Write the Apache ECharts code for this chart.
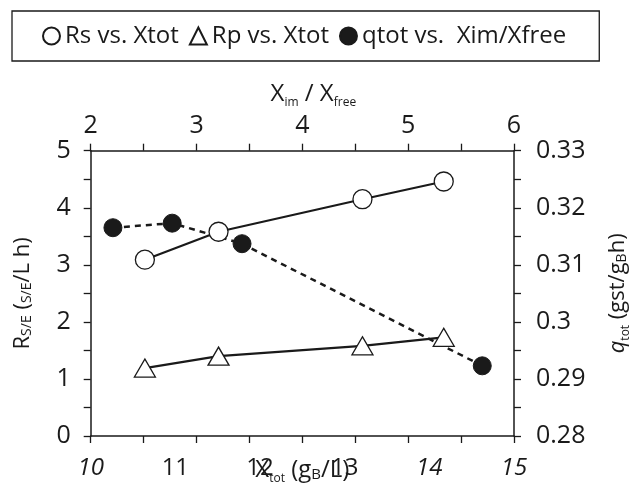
<!DOCTYPE html>
<html>
<head>
<meta charset="utf-8">
<script src="https://cdn.jsdelivr.net/npm/echarts@6/dist/echarts.min.js"></script>
<style>
html,body{margin:0;padding:0;background:#fff;}
#c{width:640px;height:490px;}
</style>
</head>
<body>
<div id="c"></div>
<script>
// Bottom axis: Xtot (gB/L); top axis: Xim/Xfree
const xtotTicks = [10, 11, 12, 13, 14, 15];
const ximTicks = [2, 3, 4, 5, 6];
const rsTicks = [0, 1, 2, 3, 4, 5];
const qTicks = [0.28, 0.29, 0.30, 0.31, 0.32, 0.33];

const xtot = [10.64, 11.51, 13.21, 14.17];
const rsValues = [3.09, 3.58, 4.15, 4.46];
const rpValues = [1.19, 1.40, 1.58, 1.73];

const ximFree = [2.21, 2.77, 3.43, 5.70];
const qtotValues = [0.3165, 0.3173, 0.3137, 0.2923];

const FONT = 'Open Sans';
const INK = '#1a1a1a';

const pair = (xs, ys) => xs.map((x, i) => [x, ys[i]]);

const chart = echarts.init(document.getElementById('c'), null, {renderer: 'canvas'});

const nameRich = {
  n: {fontFamily: FONT, fontSize: 24, color: INK, lineHeight: 30, verticalAlign: 'middle'},
  i: {fontFamily: FONT, fontSize: 24, color: INK, lineHeight: 30, fontStyle: 'italic', verticalAlign: 'middle'},
  s: {fontFamily: FONT, fontSize: 12, color: INK, lineHeight: 30, verticalAlign: 'bottom'},
  c: {fontFamily: FONT, fontSize: 15, color: INK, lineHeight: 30, verticalAlign: 'bottom', padding: [0, 0, 3, 0]}
};
const sideRich = {
  n: {fontFamily: FONT, fontSize: 22, color: INK, lineHeight: 28, verticalAlign: 'middle'},
  i: {fontFamily: FONT, fontSize: 22, color: INK, lineHeight: 28, fontStyle: 'italic', verticalAlign: 'middle'},
  s: {fontFamily: FONT, fontSize: 12, color: INK, lineHeight: 28, verticalAlign: 'bottom'},
  c: {fontFamily: FONT, fontSize: 14, color: INK, lineHeight: 28, verticalAlign: 'bottom', padding: [0, 0, 3, 0]}
};

const italicBottom = {10: true, 14: true, 15: true};

const option = {
  animation: false,
  backgroundColor: '#fff',
  textStyle: {fontFamily: FONT, color: INK},
  legend: {
    left: 12, top: 11,
    padding: [13, 33, 13, 30],
    borderColor: INK, borderWidth: 1.3,
    itemWidth: 17, itemHeight: 17, itemGap: 10,
    textStyle: {fontFamily: FONT, fontSize: 24, color: INK},
    selectedMode: false,
    data: [
      {name: 'Rs vs. Xtot', icon: 'circle'},
      {name: 'Rp vs. Xtot', icon: 'triangle'},
      {name: 'qtot vs.  Xim/Xfree', icon: 'circle'}
    ]
  },
  grid: {left: 90.7, right: 122.3, top: 150.7, bottom: 45.7, containLabel: false},
  xAxis: [
    {
      type: 'value', position: 'bottom', min: xtotTicks[0], max: xtotTicks[xtotTicks.length - 1], interval: 1,
      axisLine: {show: true, onZero: false, lineStyle: {color: INK, width: 1.5}},
      axisTick: {show: false},
      splitLine: {show: false},
      axisLabel: {
        margin: 20, fontFamily: FONT, fontSize: 24, color: INK,
        formatter: v => italicBottom[v] ? '{it|' + v + '}' : String(v),
        rich: {it: {fontFamily: FONT, fontSize: 24, color: INK, fontStyle: 'italic'}}
      },
      name: '{n|X}{s|tot}{n| (g}{c|B}{n|/L)}',
      nameLocation: 'middle', nameGap: 19, nameMoveOverlap: false,
      nameTextStyle: {rich: nameRich}
    },
    {
      type: 'value', position: 'top', min: ximTicks[0], max: ximTicks[ximTicks.length - 1], interval: 1,
      axisLine: {show: true, onZero: false, lineStyle: {color: INK, width: 1.5}},
      axisTick: {show: true, inside: false, length: 7, lineStyle: {color: INK, width: 1.3}},
      minorTick: {show: true, splitNumber: 2, length: 7, lineStyle: {color: INK, width: 1.3}},
      splitLine: {show: false},
      axisLabel: {margin: 12, fontFamily: FONT, fontSize: 25, color: INK},
      name: '{n|X}{s|im}{n| / X}{s|free}',
      nameLocation: 'middle', nameGap: 42,
      nameTextStyle: {rich: nameRich, padding: [0, 0, 0, 22]}
    },
    {
      type: 'value', position: 'bottom', min: ximTicks[0], max: ximTicks[ximTicks.length - 1], interval: 1,
      axisLine: {show: false},
      axisTick: {show: true, inside: false, length: 7, lineStyle: {color: INK, width: 1.3}},
      minorTick: {show: true, splitNumber: 2, length: 7, lineStyle: {color: INK, width: 1.3}},
      splitLine: {show: false},
      axisLabel: {show: false}
    }
  ],
  yAxis: [
    {
      type: 'value', position: 'left', min: rsTicks[0], max: rsTicks[rsTicks.length - 1], interval: 1,
      axisLine: {show: true, onZero: false, lineStyle: {color: INK, width: 1.5}},
      axisTick: {show: true, inside: false, length: 7, lineStyle: {color: INK, width: 1.3}},
      minorTick: {show: true, splitNumber: 2, length: 7, lineStyle: {color: INK, width: 1.3}},
      splitLine: {show: false},
      axisLabel: {margin: 20, fontFamily: FONT, fontSize: 25, color: INK},
      name: '{n|R}{c|S/E}{n| (}{c|S/E}{n|/L h)}',
      nameLocation: 'middle', nameGap: 54, nameRotate: 90, nameMoveOverlap: false,
      nameTextStyle: {rich: sideRich}
    },
    {
      type: 'value', position: 'right', min: qTicks[0], max: qTicks[qTicks.length - 1], interval: 0.01,
      axisLine: {show: true, onZero: false, lineStyle: {color: INK, width: 1.5}},
      axisTick: {show: true, inside: false, length: 7, lineStyle: {color: INK, width: 1.3}},
      minorTick: {show: true, splitNumber: 2, length: 7, lineStyle: {color: INK, width: 1.3}},
      splitLine: {show: false},
      axisLabel: {margin: 22, fontFamily: FONT, fontSize: 25, color: INK},
      name: '{i|q}{s|tot}{n| (gst/g}{c|B}{n|h)}',
      nameLocation: 'middle', nameGap: 90, nameRotate: 90, nameMoveOverlap: false,
      nameTextStyle: {rich: sideRich}
    }
  ],
  series: [
    {
      name: 'qtot vs.  Xim/Xfree', type: 'line', xAxisIndex: 1, yAxisIndex: 1,
      data: pair(ximFree, qtotValues),
      symbol: 'circle', symbolSize: 18,
      itemStyle: {color: INK, borderColor: INK, borderWidth: 1},
      lineStyle: {color: INK, width: 2.5, type: [6, 5]},
      z: 2
    },
    {
      name: 'Rs vs. Xtot', type: 'line', xAxisIndex: 0, yAxisIndex: 0,
      data: pair(xtot, rsValues),
      symbol: 'circle', symbolSize: 19,
      itemStyle: {color: '#fff', borderColor: INK, borderWidth: 1.3},
      lineStyle: {color: INK, width: 2.2},
      z: 3
    },
    {
      name: 'Rp vs. Xtot', type: 'line', xAxisIndex: 0, yAxisIndex: 0,
      data: pair(xtot, rpValues),
      symbol: 'triangle', symbolSize: [21, 18],
      itemStyle: {color: '#fff', borderColor: INK, borderWidth: 1.3},
      lineStyle: {color: INK, width: 2.2},
      z: 3
    }
  ]
};
chart.setOption(option);
</script>
</body>
</html>
